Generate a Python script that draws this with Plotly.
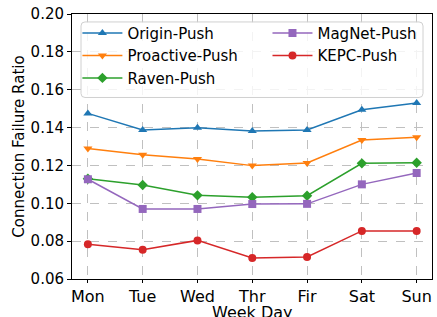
import plotly.graph_objects as go

days = ["Mon", "Tue", "Wed", "Thr", "Fir", "Sat", "Sun"]
origin = [0.1475, 0.1387, 0.1399, 0.1382, 0.1387, 0.1494, 0.1530]
proactive = [0.1290, 0.1257, 0.1234, 0.1199, 0.1213, 0.1334, 0.1349]
raven = [0.1130, 0.1097, 0.1042, 0.1032, 0.1040, 0.1211, 0.1214]
magnet = [0.1127, 0.0970, 0.0970, 0.0996, 0.0997, 0.1100, 0.1160]
kepc = [0.0783, 0.0755, 0.0804, 0.0711, 0.0716, 0.0854, 0.0854]

series = [
    ("Origin-Push", origin, "#1f77b4", "triangle-up", "legend"),
    ("Proactive-Push", proactive, "#ff7f0e", "triangle-down", "legend"),
    ("Raven-Push", raven, "#2ca02c", "diamond", "legend"),
    ("MagNet-Push", magnet, "#9467bd", "square", "legend2"),
    ("KEPC-Push", kepc, "#d62728", "circle", "legend2"),
]

fig = go.Figure()
for name, vals, col, sym, lg in series:
    fig.add_trace(go.Scatter(
        x=days, y=vals, name=name, mode="lines+markers",
        line=dict(color=col, width=1.5),
        marker=dict(symbol=sym, size=8, color=col),
        legend=lg,
    ))

font = "DejaVu Sans"
legfont = dict(family=font, size=15, color="black")
fig.update_layout(
    width=437, height=317,
    margin=dict(l=72, r=5, t=14, b=38, autoexpand=False),
    plot_bgcolor="white", paper_bgcolor="white",
    font=dict(family=font, size=15, color="black"),
    showlegend=True,
    legend=dict(x=0.015, y=0.99, xanchor="left", yanchor="top",
                bgcolor="rgba(0,0,0,0)", borderwidth=0, font=legfont,
                tracegroupgap=0, itemwidth=40),
    legend2=dict(x=0.543, y=0.99, xanchor="left", yanchor="top",
                 bgcolor="rgba(0,0,0,0)", borderwidth=0, font=legfont,
                 tracegroupgap=0, itemwidth=40),
)

# legend frame
x0, x1, y0, y1 = 0.025, 0.975, 0.685, 0.97
rx, ry = 4 / 362, 4 / 265
path = (f"M {x0+rx},{y1} L {x1-rx},{y1} Q {x1},{y1} {x1},{y1-ry} "
        f"L {x1},{y0+ry} Q {x1},{y0} {x1-rx},{y0} L {x0+rx},{y0} "
        f"Q {x0},{y0} {x0},{y0+ry} L {x0},{y1-ry} Q {x0},{y1} {x0+rx},{y1} Z")
fig.add_shape(type="path", path=path, xref="paper", yref="paper",
              line=dict(color="#d0d0d0", width=1),
              fillcolor="rgba(255,255,255,0.8)", layer="above")

fig.add_annotation(text="Week Day", xref="paper", yref="paper",
                   x=0.5, y=-0.125, xanchor="center", yanchor="middle",
                   showarrow=False, font=dict(family=font, size=16))

fig.update_xaxes(
    showline=True, linecolor="black", linewidth=1, mirror=True,
    ticks="outside", ticklen=3, tickcolor="black",
    showgrid=True, gridcolor="#c0c0c0", griddash="dash", gridwidth=0.6,
    range=[-0.29, 6.28], automargin=False,
    tickfont=dict(size=16),
)
fig.update_yaxes(
    showline=True, linecolor="black", linewidth=1, mirror=True,
    ticks="outside", ticklen=4, tickcolor="black",
    showgrid=True, gridcolor="#c0c0c0", griddash="dash", gridwidth=0.6,
    range=[0.06, 0.20], dtick=0.02, tickformat=".2f", automargin=False,
    title=dict(text="Connection Failure Ratio", font=dict(size=15), standoff=2),
    tickfont=dict(size=15), zeroline=False,
)
fig.write_html("out.html", config={"displayModeBar": False},
               post_script="document.body.style.margin='0';")
